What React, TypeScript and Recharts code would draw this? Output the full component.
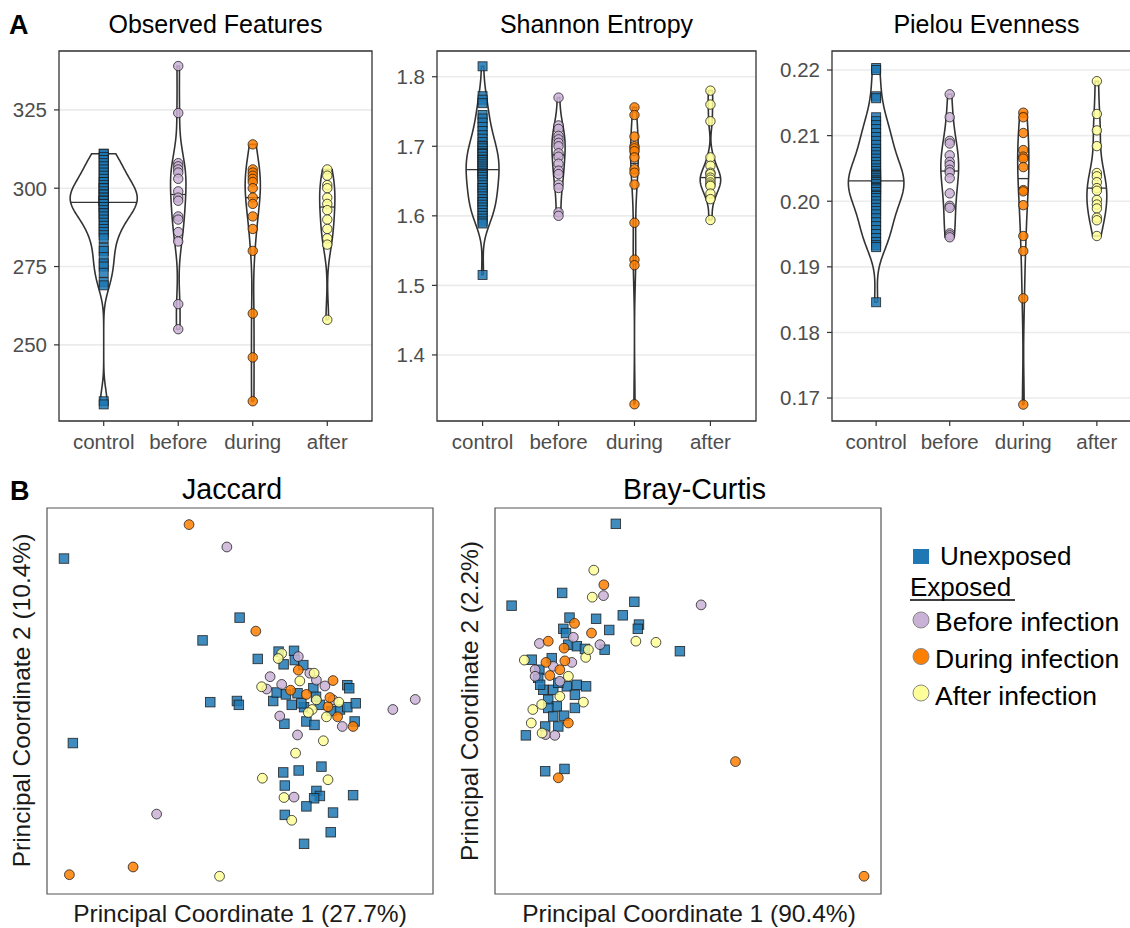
import React from 'react';
import { ScatterChart, Scatter, XAxis, YAxis, CartesianGrid, ReferenceArea } from 'recharts';

// ---------- categories & colours ----------
const CATEGORIES = ['control', 'before', 'during', 'after'];
const COLOR_UNEXPOSED = '#1F78B4';
const COLOR_BEFORE = '#CAB2D6';
const COLOR_DURING = '#FF7F00';
const COLOR_AFTER = '#FFFF99';

// ---------- Observed Features ----------
const obsControl = [311, 311, 310, 309, 308, 307, 306, 305, 304, 303, 302, 302, 301, 300, 300, 300, 299, 298, 298, 297, 297, 296, 296, 296, 296, 295, 295, 294, 294, 293, 292, 292, 291, 290, 289, 288, 287, 286, 285, 284, 281, 280, 278, 276, 275, 273, 270, 269, 232, 231];
const obsBefore = [339, 324, 308, 307, 306, 305, 303, 299, 297, 296, 291, 290, 286, 283, 263, 255];
const obsDuring = [314, 306, 305, 304, 303, 302, 300, 297, 295, 291, 287, 280, 260, 246, 232];
const obsAfter = [306, 304, 301, 300, 297, 295, 293, 290, 287, 284, 282, 258];
const obsTicks = [250, 275, 300, 325];

// ---------- Shannon Entropy ----------
const shaControl = [1.815, 1.772, 1.767, 1.762, 1.745, 1.740, 1.734, 1.728, 1.722, 1.716, 1.711, 1.706, 1.701, 1.700, 1.697, 1.693, 1.690, 1.689, 1.685, 1.681, 1.680, 1.677, 1.674, 1.671, 1.668, 1.665, 1.662, 1.660, 1.659, 1.656, 1.652, 1.648, 1.644, 1.640, 1.640, 1.636, 1.632, 1.628, 1.624, 1.620, 1.620, 1.616, 1.612, 1.608, 1.604, 1.600, 1.596, 1.592, 1.589, 1.515];
const shaBefore = [1.770, 1.730, 1.725, 1.715, 1.710, 1.705, 1.700, 1.690, 1.685, 1.675, 1.665, 1.660, 1.645, 1.640, 1.605, 1.600];
const shaDuring = [1.756, 1.745, 1.714, 1.700, 1.697, 1.693, 1.684, 1.667, 1.662, 1.645, 1.590, 1.537, 1.529, 1.329];
const shaAfter = [1.780, 1.760, 1.736, 1.684, 1.672, 1.662, 1.660, 1.655, 1.652, 1.648, 1.645, 1.643, 1.632, 1.624, 1.594];
const shaTicks = [1.4, 1.5, 1.6, 1.7, 1.8];

// ---------- Pielou Evenness ----------
const pieControl = [0.2203, 0.2200, 0.2160, 0.2157, 0.2128, 0.2122, 0.2116, 0.2110, 0.2104, 0.2098, 0.2092, 0.2086, 0.2080, 0.2075, 0.2070, 0.2065, 0.2060, 0.2055, 0.2050, 0.2046, 0.2042, 0.2040, 0.2038, 0.2035, 0.2032, 0.2030, 0.2029, 0.2026, 0.2022, 0.2020, 0.2018, 0.2014, 0.2010, 0.2008, 0.2005, 0.2000, 0.1995, 0.1990, 0.1985, 0.1980, 0.1974, 0.1968, 0.1962, 0.1956, 0.1950, 0.1944, 0.1938, 0.1933, 0.1930, 0.1846];
const pieBefore = [0.2163, 0.2128, 0.2092, 0.2088, 0.2070, 0.2060, 0.2055, 0.2048, 0.2044, 0.2035, 0.2012, 0.1993, 0.1990, 0.1951, 0.1948, 0.1945];
const pieDuring = [0.2135, 0.2128, 0.2104, 0.2078, 0.2068, 0.2065, 0.2052, 0.2017, 0.2015, 0.1994, 0.1947, 0.1924, 0.1852, 0.1690];
const pieAfter = [0.2183, 0.2133, 0.2108, 0.2084, 0.2043, 0.2038, 0.2029, 0.2020, 0.2016, 0.2002, 0.1995, 0.1989, 0.1975, 0.1971, 0.1947];
const pieTicks = [0.17, 0.18, 0.19, 0.20, 0.21, 0.22];

// ---------- Jaccard PCoA (scaled coordinates, PC1 / PC2) ----------
const jacUnexposed = [[4.4, 86.9], [49.9, 71.6], [40.3, 65.7], [54.6, 60.9], [6.7, 39.1], [42.3, 49.7], [49.2, 50.0], [49.7, 49.0], [60.0, 62.8], [64.0, 63.0], [61.3, 59.5], [64.2, 60.6], [66.4, 59.3], [77.8, 54.1], [78.3, 53.3], [58.6, 50.0], [59.5, 52.2], [61.9, 51.7], [63.4, 49.0], [64.9, 52.0], [66.6, 48.4], [67.2, 44.7], [69.3, 43.8], [61.5, 44.1], [69.0, 53.3], [70.7, 49.0], [73.7, 47.4], [75.9, 47.8], [77.8, 48.4], [80.0, 49.4], [79.7, 44.7], [69.7, 51.1], [65.9, 49.4], [61.2, 31.5], [65.2, 32.0], [71.1, 33.0], [61.6, 28.1], [69.8, 26.7], [70.7, 25.4], [69.2, 24.8], [79.3, 25.6], [67.2, 22.7], [74.1, 21.1], [61.6, 20.5], [73.5, 16.0], [66.6, 13.0]];
const jacBefore = [[46.6, 89.9], [95.4, 50.4], [89.6, 47.8], [28.4, 20.7], [64.9, 41.2], [60.3, 46.1], [57.8, 56.3], [60.8, 54.3], [56.9, 53.1], [68.1, 57.2], [72.0, 53.9], [76.5, 43.4], [74.1, 50.3], [65.1, 61.5], [64.0, 25.1], [69.8, 55.4]];
const jacDuring = [[36.8, 95.7], [54.1, 68.1], [5.8, 5.0], [22.3, 7.0], [65.1, 58.0], [74.1, 55.3], [63.1, 52.8], [67.2, 51.7], [72.8, 48.5], [75.3, 45.9], [79.3, 43.4], [73.3, 50.9]];
const jacAfter = [[44.7, 4.6], [60.8, 62.3], [59.9, 61.0], [55.6, 53.7], [65.5, 55.2], [69.2, 57.2], [68.7, 47.8], [72.4, 45.9], [75.6, 49.7], [69.8, 50.3], [67.7, 47.0], [71.6, 39.7], [64.4, 36.5], [55.8, 30.0], [72.8, 29.6], [61.4, 25.0], [63.4, 19.1]];

// ---------- Bray-Curtis PCoA (scaled coordinates, PC1 / PC2) ----------
const brayUnexposed = [[31.3, 95.9], [4.3, 74.7], [17.4, 78.0], [36.1, 75.7], [33.1, 72.2], [37.3, 69.8], [37.0, 68.7], [29.6, 68.4], [47.9, 62.9], [28.4, 63.3], [26.2, 71.3], [19.3, 71.6], [17.7, 68.7], [18.4, 67.6], [13.0, 31.8], [18.0, 32.4], [8.0, 41.1], [19.0, 64.6], [21.2, 64.2], [23.3, 63.5], [14.7, 61.1], [9.5, 60.7], [11.5, 58.1], [11.2, 56.0], [15.1, 52.9], [12.5, 52.9], [18.6, 53.8], [21.2, 54.2], [23.6, 53.8], [20.7, 51.6], [13.8, 50.3], [16.0, 48.6], [13.8, 48.2], [15.1, 46.0], [13.0, 43.4], [16.4, 43.4], [20.7, 48.2], [17.9, 46.2], [11.7, 54.2], [16.4, 54.7]];
const brayBefore = [[53.4, 74.9], [28.1, 77.3], [20.3, 66.5], [27.2, 64.6], [11.5, 64.9], [10.4, 58.1], [16.8, 55.1], [15.1, 59.0], [13.1, 41.3], [15.5, 41.1], [19.9, 60.0], [10.4, 56.4]];
const brayDuring = [[28.2, 80.1], [20.6, 70.1], [25.0, 67.6], [13.8, 65.5], [62.3, 34.3], [95.6, 4.6], [16.4, 30.1], [19.0, 44.3], [13.2, 60.0], [18.1, 60.4], [16.8, 58.1], [14.2, 56.6], [17.9, 63.7]];
const brayAfter = [[25.6, 83.9], [25.2, 76.9], [36.5, 65.5], [41.7, 65.2], [7.6, 60.6], [23.5, 61.3], [22.9, 49.7], [9.8, 47.8], [9.4, 44.3], [12.2, 41.7], [19.0, 56.4], [16.8, 51.2], [12.1, 49.1], [24.2, 63.3]];

const FONT = '"Liberation Sans", Arial, Helvetica, sans-serif';

// ---------- helpers ----------
function quantile(sorted: number[], p: number) {
  const h = (sorted.length - 1) * p;
  const lo = Math.floor(h);
  const hi = Math.ceil(h);
  return sorted[lo] + (h - lo) * (sorted[hi] - sorted[lo]);
}

// ggplot2-like violin: gaussian KDE (bw.nrd0), trimmed, scale = "count"
function buildViolins(groups: number[][]) {
  const stats = groups.map((vals) => {
    const s = [...vals].sort((a, b) => a - b);
    const n = s.length;
    const mean = s.reduce((a, b) => a + b, 0) / n;
    const sd = Math.sqrt(s.reduce((a, b) => a + (b - mean) ** 2, 0) / (n - 1));
    const iqr = quantile(s, 0.75) - quantile(s, 0.25);
    let lo = Math.min(sd, iqr / 1.34);
    if (!(lo > 0)) lo = sd || 1;
    const bw = 0.9 * lo * Math.pow(n, -0.2);
    const dens = (y: number) => {
      let t = 0;
      for (const v of s) {
        const z = (y - v) / bw;
        t += Math.exp(-0.5 * z * z);
      }
      return t / (n * bw * Math.sqrt(2 * Math.PI));
    };
    const min = s[0];
    const max = s[n - 1];
    const N = 150;
    const grid: { y: number; d: number }[] = [];
    for (let i = 0; i <= N; i++) {
      const y = min + ((max - min) * i) / N;
      grid.push({ y, d: dens(y) });
    }
    const med = quantile(s, 0.5);
    return { grid, med, medD: dens(med), n };
  });
  const maxD = Math.max(...stats.flatMap((st) => st.grid.map((g) => g.d)));
  const maxN = Math.max(...stats.map((st) => st.n));
  return stats.map((st, gi) => {
    const c = gi + 1;
    const k = (0.45 * st.n) / maxN / maxD;
    const right = st.grid.map((g) => ({ x: c + g.d * k, y: g.y }));
    const left = st.grid.slice().reverse().map((g) => ({ x: c - g.d * k, y: g.y }));
    const outline = [...right, ...left, right[0]];
    const median = [
      { x: c - st.medD * k, y: st.med },
      { x: c + st.medD * k, y: st.med },
    ];
    return { outline, median };
  });
}

const Empty = () => <g />;

const makeSquare = (size: number) => (props: any) => {
  const { cx, cy } = props;
  if (cx == null || cy == null) return <g />;
  return (
    <rect x={cx - size / 2} y={cy - size / 2} width={size} height={size} fill={COLOR_UNEXPOSED} fillOpacity={0.85}
      stroke="#1a1a1a" strokeOpacity={0.85} strokeWidth={0.9} />
  );
};
const makeCircle = (color: string, r: number) => (props: any) => {
  const { cx, cy } = props;
  if (cx == null || cy == null) return <g />;
  return <circle cx={cx} cy={cy} r={r} fill={color} fillOpacity={0.85} stroke="#1a1a1a" strokeOpacity={0.85} strokeWidth={0.9} />;
};

const topShapes = [makeSquare(9), makeCircle(COLOR_BEFORE, 4.7), makeCircle(COLOR_DURING, 4.7), makeCircle(COLOR_AFTER, 4.7)];
const pcoaShapes = [makeSquare(9.5), makeCircle(COLOR_BEFORE, 4.9), makeCircle(COLOR_DURING, 4.9), makeCircle(COLOR_AFTER, 4.9)];

type ViolinProps = {
  left: number;
  width: number;
  groups: number[][];
  domain: [number, number];
  ticks: number[];
  yWidth: number;
  marginLeft: number;
  marginRight: number;
  fmt: (v: number) => string;
};

function ViolinPanel({ left, width, groups, domain, ticks, yWidth, marginLeft, marginRight, fmt }: ViolinProps) {
  const violins = buildViolins(groups);
  const tickStyle = { fill: '#4D4D4D', fontSize: 20.5, fontFamily: FONT };
  return (
    <div style={{ position: 'absolute', left, top: 0 }}>
      <ScatterChart width={width} height={470} margin={{ top: 51, right: marginRight, bottom: 9, left: marginLeft }}>
        <CartesianGrid vertical={false} stroke="#EBEBEB" strokeWidth={1.6} />
        <XAxis type="number" dataKey="x" domain={[0.4, 4.6]} ticks={[1, 2, 3, 4]} interval={0} allowDataOverflow
          tickFormatter={(v: number) => CATEGORIES[Math.round(v) - 1]} axisLine={false} stroke="#333"
          tickLine={{ stroke: '#333', strokeWidth: 1.2 }} tickSize={5} tickMargin={8} height={40} tick={tickStyle} />
        <YAxis type="number" dataKey="y" domain={domain} ticks={ticks} interval={0} allowDataOverflow width={yWidth}
          tickFormatter={fmt} axisLine={false} stroke="#333" tickLine={{ stroke: '#333', strokeWidth: 1.2 }} tickSize={5}
          tickMargin={7} tick={tickStyle} />
        {violins.map((v, i) => (
          <Scatter key={'v' + i} data={v.outline} line={{ stroke: '#333', strokeWidth: 1.6 }} lineType="joint"
            shape={Empty} isAnimationActive={false} />
        ))}
        {violins.map((v, i) => (
          <Scatter key={'m' + i} data={v.median} line={{ stroke: '#333', strokeWidth: 1.3 }} lineType="joint"
            shape={Empty} isAnimationActive={false} />
        ))}
        {groups.map((g, i) => (
          <Scatter key={'p' + i} data={g.map((y) => ({ x: i + 1, y }))} shape={topShapes[i]} isAnimationActive={false} />
        ))}
        <ReferenceArea x1={0.4} x2={4.6} y1={domain[0]} y2={domain[1]} fill="none" fillOpacity={0} stroke="#333"
          strokeWidth={1.3} ifOverflow="visible" />
      </ScatterChart>
    </div>
  );
}

type PcoaProps = {
  left: number;
  width: number;
  marginLeft: number;
  marginRight: number;
  series: number[][][];
};

function PcoaPanel({ left, width, marginLeft, marginRight, series }: PcoaProps) {
  return (
    <div style={{ position: 'absolute', left, top: 470 }}>
      <ScatterChart width={width} height={458} margin={{ top: 38, right: marginRight, bottom: 34, left: marginLeft }}>
        <XAxis type="number" dataKey="x" domain={[0, 100]} hide allowDataOverflow height={0} />
        <YAxis type="number" dataKey="y" domain={[0, 100]} hide allowDataOverflow width={0} />
        {series.map((pts, i) => (
          <Scatter key={i} data={pts.map(([x, y]) => ({ x, y }))} shape={pcoaShapes[i]} isAnimationActive={false} />
        ))}
        <ReferenceArea x1={0} x2={100} y1={0} y2={100} fill="none" fillOpacity={0} stroke="#555" strokeWidth={1.2}
          ifOverflow="visible" />
      </ScatterChart>
    </div>
  );
}

export default function App() {
  return (
    <div style={{ position: 'fixed', left: 0, top: 0, width: 1130, height: 928, overflow: 'hidden', background: '#fff', fontFamily: FONT }}>
      <ViolinPanel left={0} width={380} groups={[obsControl, obsBefore, obsDuring, obsAfter]} domain={[225.7, 343.8]}
        ticks={obsTicks} yWidth={50} marginLeft={9} marginRight={8} fmt={(v) => String(v)} />
      <ViolinPanel left={380} width={380} groups={[shaControl, shaBefore, shaDuring, shaAfter]} domain={[1.305, 1.837]}
        ticks={shaTicks} yWidth={50} marginLeft={7} marginRight={4} fmt={(v) => v.toFixed(1)} />
      <ViolinPanel left={770} width={380} groups={[pieControl, pieBefore, pieDuring, pieAfter]} domain={[0.1665, 0.2229]}
        ticks={pieTicks} yWidth={55} marginLeft={7} marginRight={9} fmt={(v) => v.toFixed(2)} />

      <PcoaPanel left={0} width={450} marginLeft={47} marginRight={17} series={[jacUnexposed, jacBefore, jacDuring, jacAfter]} />
      <PcoaPanel left={450} width={440} marginLeft={45} marginRight={9} series={[brayUnexposed, brayBefore, brayDuring, brayAfter]} />

      <svg width={1130} height={928} style={{ position: 'absolute', left: 0, top: 0, pointerEvents: 'none' }} fontFamily={FONT}>
        <text x={9} y={34} fontSize={27} fontWeight="bold" fill="#000">A</text>
        <text x={215.5} y={33} fontSize={25} textAnchor="middle" fill="#000">Observed Features</text>
        <text x={596.5} y={33} fontSize={25} textAnchor="middle" fill="#000">Shannon Entropy</text>
        <text x={986.5} y={33} fontSize={25} textAnchor="middle" fill="#000">Pielou Evenness</text>

        <text x={10} y={500} fontSize={27} fontWeight="bold" fill="#000">B</text>
        <text x={232} y={499} fontSize={28.6} textAnchor="middle" fill="#000">Jaccard</text>
        <text x={694.5} y={499} fontSize={28.6} textAnchor="middle" fill="#000">Bray-Curtis</text>

        <text x={240} y={922} fontSize={24.5} textAnchor="middle" fill="#1a1a1a">Principal Coordinate 1 (27.7%)</text>
        <text x={689} y={922} fontSize={24.5} textAnchor="middle" fill="#1a1a1a">Principal Coordinate 1 (90.4%)</text>
        <text transform="translate(30,700.5) rotate(-90)" fontSize={24.5} textAnchor="middle" fill="#1a1a1a">Principal Coordinate 2 (10.4%)</text>
        <text transform="translate(478,701) rotate(-90)" fontSize={24.5} textAnchor="middle" fill="#1a1a1a">Principal Coordinate 2 (2.2%)</text>

        <rect x={913} y={549} width={16} height={15} fill={COLOR_UNEXPOSED} />
        <text x={940} y={565} fontSize={26} fill="#000">Unexposed</text>
        <text x={910} y={596} fontSize={26} fill="#000">Exposed</text>
        <line x1={910} x2={1015} y1={600} y2={600} stroke="#000" strokeWidth={1.5} />
        <circle cx={921} cy={620} r={8} fill={COLOR_BEFORE} stroke="#888" strokeWidth={1} />
        <text x={935} y={631} fontSize={26.5} fill="#000">Before infection</text>
        <circle cx={921} cy={656.5} r={8} fill={COLOR_DURING} stroke="#888" strokeWidth={1} />
        <text x={935} y={668} fontSize={26.5} fill="#000">During infection</text>
        <circle cx={921} cy={693} r={8} fill={COLOR_AFTER} stroke="#888" strokeWidth={1} />
        <text x={935} y={705} fontSize={26.5} fill="#000">After infection</text>
      </svg>
    </div>
  );
}
